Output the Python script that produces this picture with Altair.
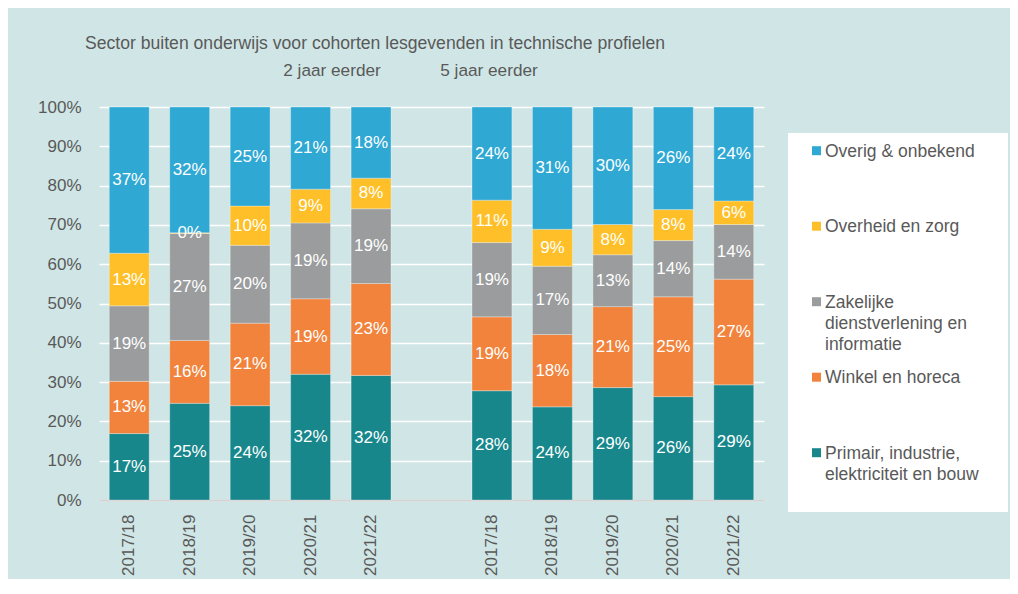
import altair as alt
import pandas as pd

# ---------------- data ----------------
title_text = "Sector buiten onderwijs voor cohorten lesgevenden in technische profielen"
group_labels = ["2 jaar eerder", "5 jaar eerder"]
periods = ["2017/18", "2018/19", "2019/20", "2020/21", "2021/22"]

# stacking order bottom -> top
sectors = [
    "Primair, industrie,\nelektriciteit en bouw",
    "Winkel en horeca",
    "Zakelijke\ndienstverlening en\ninformatie",
    "Overheid en zorg",
    "Overig & onbekend",
]
colors = ["#18878c", "#f1833c", "#9a9c9d", "#febf28", "#2fa8d4"]

# values in % ; first 5 = "2 jaar eerder", last 5 = "5 jaar eerder"
primair = [16.9, 24.6, 24.0, 32.0, 31.7, 27.8, 23.7, 28.6, 26.3, 29.3]
winkel = [13.3, 16.0, 21.0, 19.2, 23.4, 18.8, 18.4, 20.6, 25.4, 26.9]
zakelijk = [19.2, 27.2, 19.8, 19.3, 19.0, 18.9, 17.4, 13.2, 14.3, 13.9]
overheid = [13.4, 0.2, 10.0, 8.6, 7.8, 10.8, 9.4, 7.7, 7.9, 6.0]
overig = [37.2, 32.0, 25.2, 20.9, 18.1, 23.7, 31.1, 29.9, 26.1, 23.9]
series = [primair, winkel, zakelijk, overheid, overig]

# ---------------- tables ----------------
rows = []
domain = []
for g in range(2):
    if g == 1:
        domain.append("gap|")
    for p, per in enumerate(periods):
        pos = f"{g}|{per}"
        domain.append(pos)
        for k, sec in enumerate(sectors):
            rows.append({"pos": pos, "sector": sec, "k": k, "value": series[k][g * 5 + p]})
df = pd.DataFrame(rows)

TXT = "#595959"
FONT = "Liberation Sans"

color = alt.Color("sector:N", scale=alt.Scale(domain=sectors, range=colors), legend=None)

x_enc = alt.X(
    "pos:N",
    scale=alt.Scale(domain=domain, paddingInner=0.34, paddingOuter=0.17),
    axis=alt.Axis(
        title=None, labelExpr="split(datum.label, '|')[1]", labelAngle=270,
        labelAlign="right", labelBaseline="middle", labelPadding=14,
        ticks=False, tickSize=0, domainColor="#d4d4d4", domainWidth=2, grid=False,
    ),
)


def y_axis():
    return alt.Axis(
        title=None, values=list(range(0, 101, 10)), labelExpr="datum.value + '%'",
        ticks=False, tickSize=0, domain=False, grid=True, gridColor="#ffffff",
        gridWidth=1.5, labelPadding=18,
    )


base = alt.Chart(df).transform_stack(
    stack="value", groupby=["pos"], as_=["v0", "v1"], sort=[alt.SortField("k", order="ascending")]
).transform_calculate(
    mid="(datum.v0 + datum.v1) / 2",
    lbl="format(datum.value / 100, '.0%')",
)

bars = base.mark_bar(stroke="#ffffff", strokeWidth=0.6, strokeOpacity=0.5).encode(
    x=x_enc,
    y=alt.Y("v0:Q", scale=alt.Scale(domain=[0, 100], nice=False), axis=y_axis()),
    y2="v1:Q",
    color=color,
)

labels = base.mark_text(color="#ffffff", fontSize=17, font=FONT).encode(
    x=x_enc,
    y=alt.Y("mid:Q", scale=alt.Scale(domain=[0, 100], nice=False), axis=y_axis()),
    text="lbl:N",
)

title_mark = alt.Chart(pd.DataFrame({"t": [title_text]})).mark_text(
    align="left", baseline="middle", fontSize=17.6, font=FONT, color=TXT
).encode(x=alt.value(-14), y=alt.value(-63), text="t:N")

sub1 = alt.Chart(pd.DataFrame({"t": [group_labels[0]]})).mark_text(
    align="center", baseline="middle", fontSize=17.2, font=FONT, color=TXT
).encode(x=alt.value(233), y=alt.value(-36), text="t:N")

sub2 = alt.Chart(pd.DataFrame({"t": [group_labels[1]]})).mark_text(
    align="center", baseline="middle", fontSize=17.2, font=FONT, color=TXT
).encode(x=alt.value(390), y=alt.value(-36), text="t:N")

main = alt.layer(bars, labels, title_mark, sub1, sub2).properties(width=665, height=393)

# ---------------- legend panel ----------------
legend_order = list(reversed(sectors))
leg_df = pd.DataFrame({"sector": legend_order, "i": list(range(len(legend_order)))})
leg_y = alt.Y("i:Q", scale=alt.Scale(domain=[0, 4], range=[43.7, 345.7], zero=False, nice=False), axis=None)

box = alt.Chart(pd.DataFrame({"a": [0]})).mark_rect(color="#ffffff").encode(
    x=alt.value(0), x2=alt.value(220), y=alt.value(26), y2=alt.value(405)
)
sq = alt.Chart(leg_df).mark_square(size=81, opacity=1).encode(
    x=alt.value(28.5), y=leg_y, color=color
)
lt = alt.Chart(leg_df).mark_text(
    align="left", baseline="alphabetic", dy=6, lineBreak="\n", lineHeight=21,
    fontSize=17.5, font=FONT, color=TXT
).encode(x=alt.value(37), y=leg_y, text="sector:N")

legend = alt.layer(box, sq, lt).properties(width=220, height=405)

chart = alt.hconcat(main, legend, spacing=24).properties(
    padding={"left": 29, "top": 27, "right": 2, "bottom": 3},
    background="#d0e6e6",
).configure_view(stroke=None).configure_axis(
    labelFont=FONT, labelFontSize=17, labelColor=TXT
)

chart.save("out.html", embed_options={"renderer": "svg", "actions": False})
